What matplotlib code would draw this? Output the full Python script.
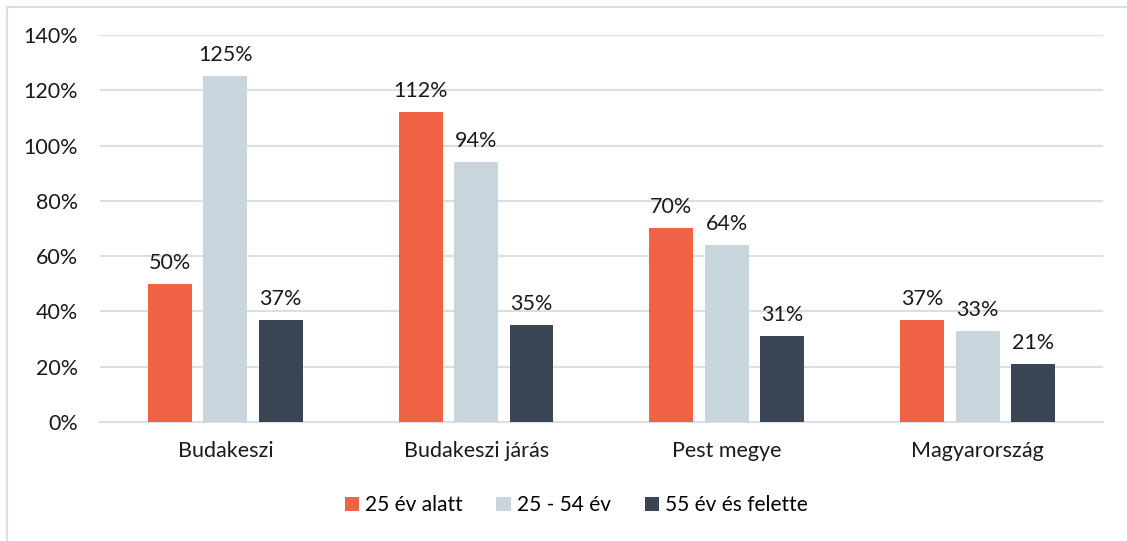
import numpy as np
import matplotlib
matplotlib.use("Agg")
import matplotlib.pyplot as plt
from matplotlib.lines import Line2D

categories = ["Budakeszi", "Budakeszi járás", "Pest megye", "Magyarország"]
series_names = ["25 év alatt", "25 - 54 év", "55 év és felette"]
under_25 = [50, 112, 70, 37]
age_25_54 = [125, 94, 64, 33]
over_55 = [37, 35, 31, 21]
yticks = [0, 20, 40, 60, 80, 100, 120, 140]

colors = ["#F06246", "#C9D5DD", "#3A4654"]
plt.rcParams["font.family"] = ["Lato", "DejaVu Sans"]

fig = plt.figure(figsize=(11.27, 5.41), dpi=100)
ax = fig.add_axes([0.0887, 0.22, 0.89, 0.7153])

x = np.arange(len(categories))
width = 0.175
step = 0.221
series = [under_25, age_25_54, over_55]
for k, (vals, name, col) in enumerate(zip(series, series_names, colors)):
    pos = x + (k - 1) * step
    ax.bar(pos, vals, width=width, color=col, label=name, zorder=3)
    for p, v in zip(pos, vals):
        ax.annotate(f"{v}%", (p, v), xytext=(0, 8), textcoords="offset points",
                    ha="center", va="bottom", fontsize=15.5, color="#1a1a1a")

ax.set_xlim(-0.5, 3.5)
ax.set_ylim(0, 140)
ax.set_yticks(yticks)
ax.set_yticklabels([f"{t}%" for t in yticks])
ax.set_xticks(x)
ax.set_xticklabels(categories)
ax.tick_params(axis="both", length=0, labelsize=15.5, colors="#1a1a1a")
ax.tick_params(axis="y", pad=16)
ax.tick_params(axis="x", pad=14)
ax.grid(axis="y", color="#D9DEE7", linewidth=1.5, zorder=0)
for s in ["top", "right", "left"]:
    ax.spines[s].set_visible(False)
ax.spines["bottom"].set_color("#D9DEE7")
ax.spines["bottom"].set_linewidth(1.5)

ax.legend(loc="center", bbox_to_anchor=(0.475, -0.215), ncol=3, frameon=False,
          fontsize=15, handlelength=0.7, handleheight=0.7, handletextpad=0.3,
          columnspacing=1.6)

# outer frame (partially cropped in the original)
fig.add_artist(Line2D([7 / 1127, 7 / 1127], [0, 1 - 7 / 541], transform=fig.transFigure,
                      color="#D9DEE7", linewidth=1.5))
fig.add_artist(Line2D([7 / 1127, 1], [1 - 7 / 541, 1 - 7 / 541], transform=fig.transFigure,
                      color="#D9DEE7", linewidth=1.5))

fig.savefig("out.png", dpi=100)
